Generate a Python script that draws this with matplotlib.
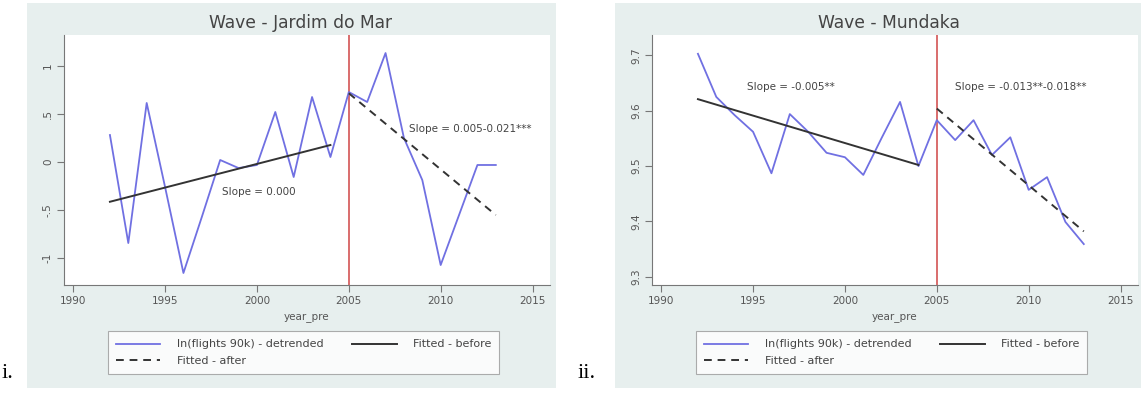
import matplotlib
matplotlib.use("Agg")
import matplotlib.pyplot as plt
from matplotlib.lines import Line2D

# ---------------- data ----------------
years = list(range(1992, 2014))

jardim_values = [0.281, -0.844, 0.615, -0.260, -1.156, -0.573, 0.021, -0.063,
                 -0.031, 0.521, -0.156, 0.677, 0.052, 0.729, 0.625, 1.135,
                 0.250, -0.188, -1.073, -0.552, -0.031, -0.031]
jardim_fit_before_years = [1992, 2004]
jardim_fit_before = [-0.414, 0.177]
jardim_fit_after_years = [2005, 2013]
jardim_fit_after = [0.716, -0.552]
jardim_yticks = [-1, -0.5, 0, 0.5, 1]
jardim_yticklabels = ["-1", "-.5", "0", ".5", "1"]

mundaka_values = [9.703, 9.625, 9.592, 9.562, 9.487, 9.594, 9.562, 9.524,
                  9.516, 9.484, 9.551, 9.616, 9.500, 9.583, 9.547, 9.583,
                  9.520, 9.552, 9.457, 9.480, 9.399, 9.359]
mundaka_fit_before_years = [1992, 2004]
mundaka_fit_before = [9.621, 9.502]
mundaka_fit_after_years = [2005, 2013]
mundaka_fit_after = [9.604, 9.382]
mundaka_yticks = [9.3, 9.4, 9.5, 9.6, 9.7]
mundaka_yticklabels = ["9.3", "9.4", "9.5", "9.6", "9.7"]

xticks = [1990, 1995, 2000, 2005, 2010, 2015]
break_year = 2005

titles = ["Wave - Jardim do Mar", "Wave - Mundaka"]
slope_before_labels = ["Slope = 0.000", "Slope = -0.005**"]
slope_after_labels = ["Slope = 0.005-0.021***", "Slope = -0.013**-0.018**"]
legend_labels = ["ln(flights 90k) - detrended", "Fitted - before", "Fitted - after"]
panel_labels = ["i.", "ii."]

# ---------------- figure ----------------
W, H = 1141, 394
fig = plt.figure(figsize=(W / 100, H / 100), dpi=100)
fig.patch.set_facecolor("white")

def fx(px):
    return px / W

def fy(py):
    return 1 - py / H

BG = "#e7efee"
BLUE = "#7070e2"
DARK = "#333333"
RED = "#cf4545"
TXT = "#444444"

panels = [
    dict(offset=0, vals=jardim_values, fbx=jardim_fit_before_years, fb=jardim_fit_before,
         fax=jardim_fit_after_years, fa=jardim_fit_after, yt=jardim_yticks,
         ytl=jardim_yticklabels, ylim=(-1.281, 1.323),
         tb=(1998.1, -0.3125), ta=(2008.26, 0.344)),
    dict(offset=588, vals=mundaka_values, fbx=mundaka_fit_before_years, fb=mundaka_fit_before,
         fax=mundaka_fit_after_years, fa=mundaka_fit_after, yt=mundaka_yticks,
         ytl=mundaka_yticklabels, ylim=(9.285, 9.737),
         tb=(1994.67, 9.643), ta=(2005.98, 9.643)),
]

for i, p in enumerate(panels):
    off = p["offset"]
    # graph region background (its own axes, drawn beneath)
    right_edge = min(556 + off, W)
    bgax = fig.add_axes([fx(27 + off), fy(388), (right_edge - 27 - off) / W, (388 - 3) / H],
                        zorder=-5)
    bgax.set_facecolor(BG)
    bgax.set_xticks([])
    bgax.set_yticks([])
    for s in bgax.spines.values():
        s.set_visible(False)

    ax = fig.add_axes([fx(64 + off), fy(285), 486 / W, 250 / H], zorder=1)
    ax.set_facecolor("white")
    ax.plot(years, p["vals"], color=BLUE, lw=1.3, zorder=3)
    ax.plot(p["fbx"], p["fb"], color=DARK, lw=1.4, zorder=4)
    ax.plot(p["fax"], p["fa"], color=DARK, lw=1.4, ls=(0, (4, 3)), zorder=4)
    ax.axvline(break_year, color=RED, lw=1.1, zorder=2)
    ax.set_xlim(1989.5, 2015.95)
    ax.set_ylim(*p["ylim"])
    ax.set_xticks(xticks)
    ax.set_xticklabels([str(t) for t in xticks])
    ax.set_yticks(p["yt"])
    ax.set_yticklabels(p["ytl"], rotation=90, va="center")
    for s in ["top", "right"]:
        ax.spines[s].set_visible(False)
    for s in ["left", "bottom"]:
        ax.spines[s].set_color("#777777")
        ax.spines[s].set_linewidth(0.8)
    ax.tick_params(axis="both", direction="out", length=5, width=0.8,
                   color="#777777", labelsize=7.5, labelcolor="#555555", pad=3)
    ax.set_xlabel("year_pre", fontsize=7.5, color="#555555", labelpad=5)
    ax.text(p["tb"][0], p["tb"][1], slope_before_labels[i], fontsize=7.5,
            color=TXT, va="center", ha="left", zorder=5)
    ax.text(p["ta"][0], p["ta"][1], slope_after_labels[i], fontsize=7.5,
            color=TXT, va="center", ha="left", zorder=5)
    fig.text(fx(301 + off), fy(23), titles[i], fontsize=12.3, color="#444444",
             ha="center", va="center")
    handles = [Line2D([], [], color=BLUE, lw=1.3),
               Line2D([], [], color=DARK, lw=1.4, ls=(0, (4, 3))),
               Line2D([], [], color=DARK, lw=1.4)]
    labels = [legend_labels[0], legend_labels[2], legend_labels[1]]
    leg = fig.legend(handles, labels, ncol=2, loc="center",
                     bbox_to_anchor=(fx(303.5 + off), fy(352.5)),
                     fontsize=8, frameon=True, fancybox=False,
                     handlelength=4, handletextpad=1.45, columnspacing=2.6,
                     borderpad=0.75, labelspacing=0.55)
    leg.get_frame().set_edgecolor("#999999")
    leg.get_frame().set_linewidth(0.8)
    leg.get_frame().set_facecolor("white")
    leg.set_zorder(3)
    for t in leg.get_texts():
        t.set_color(TXT)
    fig.text(fx(2 + (576 if i else 0)), fy(373), panel_labels[i], fontsize=16,
             family="Liberation Serif", ha="left", va="center", color="black")

fig.savefig("out.png", dpi=100)
